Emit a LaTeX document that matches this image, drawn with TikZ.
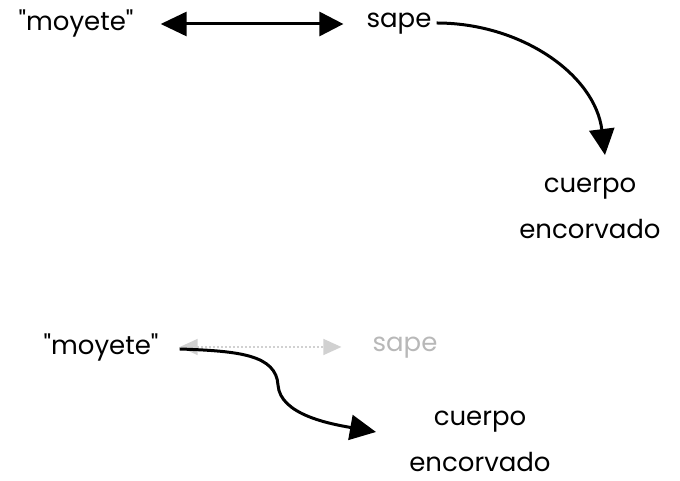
\documentclass[tikz,border=0pt]{standalone}
\usepackage{fontspec}
\newfontfamily\diagfont{Poppins}
\usetikzlibrary{arrows.meta}
\begin{document}
\begin{tikzpicture}[x=1pt,y=1pt,
  lbl/.style={font=\diagfont\fontsize{26}{46}\selectfont, inner sep=0pt, anchor=center},
  faded/.style={lbl, text=black!28},
  bigarrow/.style={line width=3pt, -{Triangle[length=26pt,width=25pt]}},
  dbl/.style={line width=3pt, {Triangle[length=26pt,width=24pt]}-{Triangle[length=24pt,width=24pt]}},
  ghost/.style={line width=1.5pt, black!18, dash pattern=on 2pt off 2pt, {Triangle[length=18pt,width=16pt]}-{Triangle[length=18pt,width=16pt]}}]
\useasboundingbox (0,0) rectangle (680,481);
% top
\node[lbl] (m1) at (76,457) {"moyete"};
\node[lbl] (s1) at (399,457) {sape};
\node[lbl, align=center] (c1) at (590,273) {cuerpo\\encorvado};
\draw[dbl] ([xshift=27pt]m1.east) -- ([xshift=-23pt]s1.west);
\draw[bigarrow] ([xshift=5pt,yshift=1pt]s1.east) .. controls +(85,0) and +(-10,80) .. (605,326);
% bottom
\node[lbl] (m2) at (101,133) {"moyete"};
\node[faded] (s2) at (405,133) {sape};
\node[lbl, align=center] (c2) at (480,40) {cuerpo\\encorvado};
\draw[ghost] ([xshift=21pt,yshift=1pt]m2.east) -- ([xshift=-31pt,yshift=1pt]s2.west);
\draw[line width=3pt] ([xshift=21pt,yshift=-1pt]m2.east) .. controls +(60,-2) and +(-2,30) .. (278,96)
  coordinate (mid);
\draw[bigarrow] (mid) .. controls +(2,-30) and +(-45,8) .. (376,49);
\end{tikzpicture}
\end{document}
